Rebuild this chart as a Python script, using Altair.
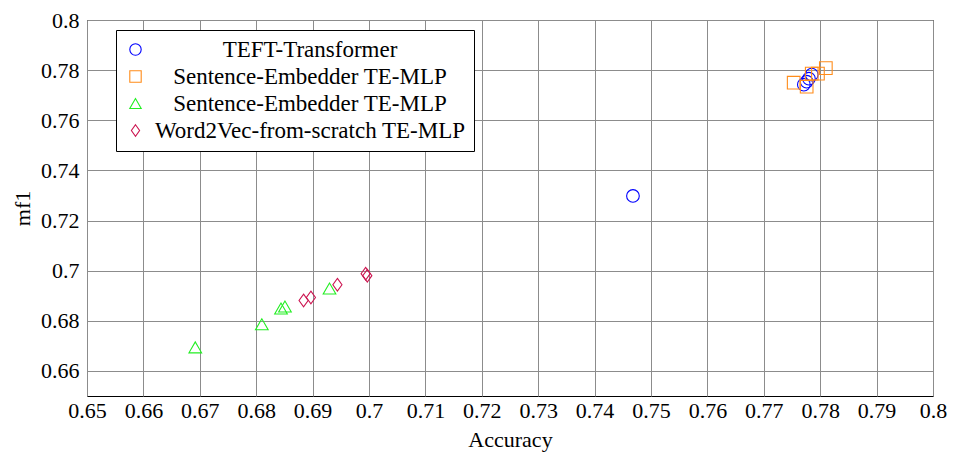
import altair as alt
import pandas as pd

# ---- data ----
series_names = [
    "TEFT-Transformer",
    "Sentence-Embedder TE-MLP",
    "Sentence-Embedder TE-MLP ",   # second series with the same visible name
    "Word2Vec-from-scratch TE-MLP",
]
teft_x = [0.7468, 0.7771, 0.7776, 0.7780, 0.7785]
teft_y = [0.7298, 0.7742, 0.7754, 0.7766, 0.7782]
se1_x = [0.7753, 0.7776, 0.7785, 0.7796, 0.7810]
se1_y = [0.7750, 0.7734, 0.7786, 0.7786, 0.7808]
se2_x = [0.6692, 0.6810, 0.6844, 0.6851, 0.6930]
se2_y = [0.6694, 0.6786, 0.6849, 0.6857, 0.6929]
w2v_x = [0.6884, 0.6897, 0.6944, 0.6994, 0.6997]
w2v_y = [0.6881, 0.6893, 0.6944, 0.6988, 0.6980]

x_ticks = [0.65, 0.66, 0.67, 0.68, 0.69, 0.70, 0.71, 0.72, 0.73, 0.74,
           0.75, 0.76, 0.77, 0.78, 0.79, 0.80]
y_ticks = [0.66, 0.68, 0.70, 0.72, 0.74, 0.76, 0.78, 0.80]

colors = ["#0000ff", "#ff8c1a", "#22ee22", "#cc1450"]
shapes = ["circle", "square", "triangle-up", "M0,-1L0.72,0L0,1L-0.72,0Z"]

rows = []
for name, xs, ys in zip(series_names,
                        [teft_x, se1_x, se2_x, w2v_x],
                        [teft_y, se1_y, se2_y, w2v_y]):
    for a, b in zip(xs, ys):
        rows.append({"series": name, "Accuracy": a, "mf1": b})
df = pd.DataFrame(rows)

FONT = "Liberation Serif"

chart = alt.Chart(df).mark_point(filled=False, size=160, strokeWidth=1.1, opacity=1).encode(
    x=alt.X("Accuracy:Q",
            scale=alt.Scale(domain=[0.65, 0.80], nice=False, zero=False),
            axis=alt.Axis(values=x_ticks, format=".2~f", title="Accuracy",
                          labelFlush=False, labelOverlap=False, labelPadding=4,
                          titlePadding=8)),
    y=alt.Y("mf1:Q",
            scale=alt.Scale(domain=[0.65, 0.80], nice=False, zero=False),
            axis=alt.Axis(values=y_ticks, format=".2~f", title="mf1",
                          labelFlush=False, labelOverlap=False, labelPadding=8,
                          titlePadding=6)),
    color=alt.Color("series:N",
                    scale=alt.Scale(domain=series_names, range=colors),
                    legend=alt.Legend(title=None, orient="none", legendX=29, legendY=10,
                                      labelAlign="center", labelOffset=163,
                                      labelLimit=1000, padding=8, rowPadding=3,
                                      strokeColor="black", fillColor="white",
                                      symbolSize=130, symbolStrokeWidth=1.1)),
    shape=alt.Shape("series:N",
                    scale=alt.Scale(domain=series_names, range=shapes),
                    legend=None),
).properties(
    width=846, height=376,
    background="white",
    autosize=alt.AutoSizeParams(type="none"),
    padding={"left": 79, "top": 12, "right": 15, "bottom": 56},
).configure_view(
    stroke="black", strokeWidth=1
).configure_axis(
    labelFont=FONT, titleFont=FONT, labelFontSize=22, titleFontSize=22,
    titleFontWeight="normal", labelColor="black", titleColor="black",
    domain=False, ticks=False, gridColor="#8c8c8c", gridWidth=1, gridOpacity=1,
).configure_legend(
    labelFont=FONT, labelFontSize=23, labelColor="black",
)

chart.save("out.html", embed_options={"renderer": "svg", "actions": False})
